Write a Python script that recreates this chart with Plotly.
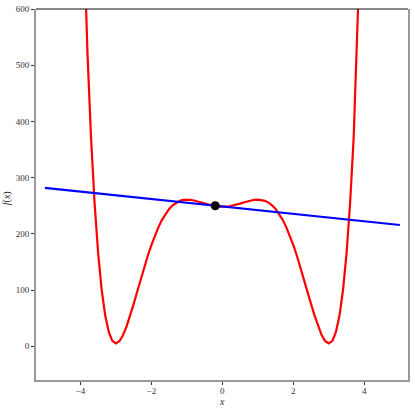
import plotly.graph_objects as go

# Red curve f(x)
curve_x = [-4.0, -3.9, -3.8, -3.7, -3.6, -3.5, -3.4, -3.3, -3.2, -3.1, -3.0,
           -2.9, -2.8, -2.7, -2.6, -2.5, -2.4, -2.3, -2.2, -2.1, -2.0,
           -1.9, -1.8, -1.7, -1.6, -1.5, -1.4, -1.3, -1.2, -1.1, -1.0,
           -0.9, -0.8, -0.7, -0.6, -0.5, -0.4, -0.3, -0.2, -0.1, 0.0,
           0.1, 0.2, 0.3, 0.4, 0.5, 0.6, 0.7, 0.8, 0.9, 1.0,
           1.1, 1.2, 1.3, 1.4, 1.5, 1.6, 1.7, 1.8, 1.9, 2.0,
           2.1, 2.2, 2.3, 2.4, 2.5, 2.6, 2.7, 2.8, 2.9, 3.0,
           3.1, 3.2, 3.3, 3.4, 3.5, 3.6, 3.7, 3.8, 3.9, 4.0]
half_y = [248.0, 248.3, 249.1, 250.3, 251.9, 253.8, 255.8, 257.7, 259.4, 260.6, 261.0,
          260.5, 258.8, 255.6, 250.8, 244.2, 235.6, 224.9, 212.0, 197.0, 180.0,
          161.1, 140.7, 119.1, 97.0, 75.0, 54.0, 35.1, 19.6, 9.0, 5.0,
          9.7, 25.4, 54.6, 100.4, 166.1, 255.3, 372.1, 521.1, 707.3, 936.0]
curve_y = half_y[::-1] + half_y[1:]

# Blue line endpoints
line_x = [-5.0, 5.0]
line_y = [281.7, 215.7]

# Black point
point_x = [-0.2]
point_y = [250.0]

x_ticks = [-4, -2, 0, 2, 4]
y_ticks = [0, 100, 200, 300, 400, 500, 600]

font_family = "Liberation Serif"

fig = go.Figure()
fig.add_trace(go.Scatter(x=curve_x, y=curve_y, mode="lines",
                         line=dict(color="#ff0000", width=2.2), showlegend=False))
fig.add_trace(go.Scatter(x=line_x, y=line_y, mode="lines",
                         line=dict(color="#0000ff", width=2.2), showlegend=False))
fig.add_trace(go.Scatter(x=point_x, y=point_y, mode="markers",
                         marker=dict(color="black", size=9), showlegend=False))

fig.add_shape(type="line", xref="paper", yref="paper", x0=0, x1=1, y0=1, y1=1,
              line=dict(color="#111111", width=1.2), layer="above")

fig.add_annotation(text="<i>f</i>(<i>x</i>)", xref="paper", yref="paper",
                   x=0, y=0.49, xshift=-29, textangle=-90, showarrow=False,
                   xanchor="center", yanchor="middle",
                   font=dict(family=font_family, size=10, color="#333333"))
fig.add_annotation(text="<i>x</i>", xref="paper", yref="paper",
                   x=0.5, y=0, yshift=-21, showarrow=False,
                   xanchor="center", yanchor="middle",
                   font=dict(family=font_family, size=10, color="#333333"))

fig.update_layout(
    width=415, height=410,
    margin=dict(l=36, r=7, t=9, b=30, autoexpand=False),
    paper_bgcolor="white", plot_bgcolor="white",
    font=dict(family=font_family, size=9, color="#333333"),
    xaxis=dict(range=[-5.25, 5.23], tickvals=x_ticks, ticks="outside", ticklen=3,
               tickcolor="#333333", tickwidth=1, showgrid=False, zeroline=False,
               showline=True, linecolor="#999999", linewidth=2, automargin=False,
               ticklabelstandoff=-2),
    yaxis=dict(range=[-60, 600], tickvals=y_ticks, ticks="outside", ticklen=3,
               tickcolor="#333333", tickwidth=1, showgrid=False, zeroline=False,
               showline=True, linecolor="#999999", linewidth=2, mirror=True,
               automargin=False, ticklabeloverflow="allow"),
)

fig.write_html("out.html", config={"displayModeBar": False},
               post_script="document.body.style.margin='0';")
